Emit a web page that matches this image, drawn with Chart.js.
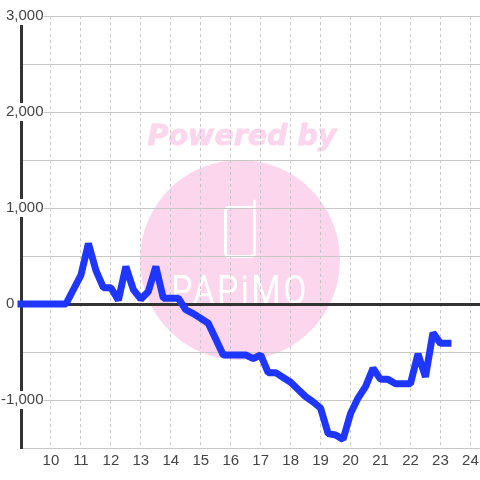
<!DOCTYPE html>
<html>
<head>
<meta charset="utf-8">
<style>
html, body { margin: 0; padding: 0; background: #fff; }
canvas { display: block; }
</style>
<script src="https://cdn.jsdelivr.net/npm/chart.js@4"></script>
</head>
<body>
<canvas id="graph" width="480" height="480"></canvas>
<script>
var hours = [9, 9.5, 10, 10.5, 11, 11.25, 11.5, 11.75, 12, 12.25, 12.5, 12.75, 13, 13.25, 13.5, 13.75, 14, 14.25,
    14.5, 14.75, 15, 15.25, 15.5, 15.75, 16, 16.25, 16.5, 16.75, 17, 17.25, 17.5, 17.75, 18, 18.25, 18.5, 18.75,
    19, 19.25, 19.5, 19.75, 20, 20.25, 20.5, 20.75, 21, 21.25, 21.5, 21.75, 22, 22.25, 22.5, 22.75, 23, 23.25];
var balls = [0, 0, 0, 0, 300, 630, 350, 170, 170, 40, 390, 150, 50, 130, 390, 60, 60, 60,
    -60, -100, -150, -200, -365, -530, -530, -530, -530, -570, -530, -715, -715, -765, -815, -890, -965, -1020,
    -1085, -1350, -1365, -1410, -1140, -980, -860, -670, -785, -785, -830, -830, -830, -520, -760, -300, -410, -410];

var pink = '#fbd6ec';

var watermark = {
    id: 'watermark',
    beforeDraw: function (chart) {
        var ctx = chart.ctx;
        ctx.save();
        ctx.fillStyle = pink;
        ctx.beginPath();
        ctx.arc(240, 260, 100, 0, Math.PI * 2);
        ctx.fill();

        ctx.font = 'italic bold 28.5px "DejaVu Sans"';
        ctx.textAlign = 'center';
        ctx.textBaseline = 'alphabetic';
        ctx.strokeStyle = pink;
        ctx.lineWidth = 0.8;
        ctx.fillText('Powered by', 242, 145);
        ctx.strokeText('Powered by', 242, 145);

        // phone icon
        ctx.strokeStyle = '#fff';
        ctx.lineWidth = 3;
        ctx.lineJoin = 'round';
        ctx.lineCap = 'round';
        ctx.beginPath();
        ctx.moveTo(254.5, 201);
        ctx.lineTo(254.5, 253);
        ctx.quadraticCurveTo(254.5, 256.5, 251, 256.5);
        ctx.lineTo(229, 256.5);
        ctx.quadraticCurveTo(225.5, 256.5, 225.5, 253);
        ctx.lineTo(225.5, 211);
        ctx.quadraticCurveTo(225.5, 207.5, 229, 207.5);
        ctx.lineTo(254.5, 207.5);
        ctx.stroke();

        // logo lettering, squeezed to the logo's width
        ctx.fillStyle = '#fff';
        ctx.font = '400 41px Roboto';
        ctx.letterSpacing = '3px';
        ctx.translate(240, 304);
        ctx.scale(0.82, 1);
        ctx.fillText('PAPiMO', 0, 0);
        ctx.restore();
    }
};

new Chart(document.getElementById('graph').getContext('2d'), {
    type: 'line',
    plugins: [watermark],
    data: {
        datasets: [{
            data: hours.map(function (h, i) { return {x: h, y: balls[i]}; }),
            borderColor: '#1e36ff',
            borderWidth: 7,
            borderCapStyle: 'square',
            borderJoinStyle: 'bevel',
            pointRadius: 0,
            tension: 0,
            clip: false
        }]
    },
    options: {
        responsive: false,
        devicePixelRatio: 1,
        animation: false,
        layout: {autoPadding: false, padding: {left: 7, top: 16, right: 0, bottom: 0}},
        plugins: {legend: {display: false}, tooltip: {enabled: false}},
        scales: {
            x: {
                type: 'linear',
                min: 9,
                max: 24.32,
                afterFit: function (scale) {
                    scale.height = 32;
                    scale.paddingLeft = 0;
                    scale.paddingRight = 0;
                },
                border: {display: false, dash: [3, 3]},
                grid: {color: '#c8c8c8', lineWidth: 1, tickLength: 0, drawTicks: false},
                ticks: {
                    stepSize: 1,
                    includeBounds: false,
                    autoSkip: false,
                    maxRotation: 0,
                    padding: 4,
                    color: '#444',
                    font: {family: '"Liberation Sans"', size: 15},
                    callback: function (v) { return v === 9 ? '' : String(v); }
                }
            },
            y: {
                min: -1500,
                max: 3000,
                afterFit: function (scale) { scale.width = 14; },
                border: {display: true, color: '#333', width: 3},
                grid: {
                    drawTicks: false,
                    tickLength: 0,
                    color: function (c) { return c.tick && c.tick.value === 0 ? '#333' : '#c8c8c8'; },
                    lineWidth: function (c) { return c.tick && c.tick.value === 0 ? 3 : 1; }
                },
                ticks: {
                    stepSize: 500,
                    autoSkip: false,
                    mirror: true,
                    crossAlign: 'far',
                    padding: -20,
                    color: '#444',
                    showLabelBackdrop: function (c) { return c.tick.value !== 0 && c.tick.value % 1000 === 0; },
                    backdropColor: '#fff',
                    backdropPadding: 0,
                    font: {family: '"Liberation Sans"', size: 15},
                    callback: function (v) {
                        if (v === 0) return '0\u00a0\u00a0\u00a0\u00a0\u00a0\u00a0\u00a0';
                        return v % 1000 === 0 ? v.toLocaleString('en-US') : '';
                    }
                }
            }
        }
    }
});
</script>
</body>
</html>
